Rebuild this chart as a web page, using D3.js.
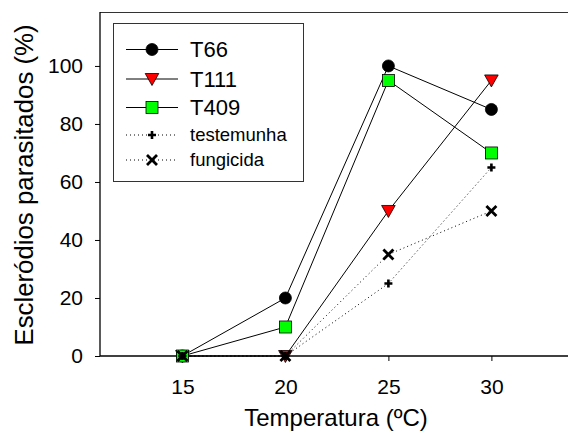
<!DOCTYPE html>
<html>
<head>
<meta charset="utf-8">
<script src="https://cdn.jsdelivr.net/npm/d3@7"></script>
<style>
  body { margin: 0; background: #fff; }
  svg { display: block; font-family: 'Liberation Sans', Arial, sans-serif; }
</style>
</head>
<body>
<div id="chart"></div>
<script>
/* temperatures and % of parasitised sclerotia per treatment */
const temps = [15, 20, 25, 30];
const t66 = [0, 20, 100, 85];
const t111 = [0, 0, 50, 95];
const t409 = [0, 10, 95, 70];
const testemunha = [0, 0, 25, 65];
const fungicida = [0, 0, 35, 50];
const yTicks = [0, 20, 40, 60, 80, 100];

const series = [
  { name: 'T66', values: t66, marker: 'circle', fill: '#000', dash: null, big: true },
  { name: 'T111', values: t111, marker: 'triangle', fill: '#ff0000', dash: null, big: true },
  { name: 'T409', values: t409, marker: 'square', fill: '#00ff00', dash: null, big: true },
  { name: 'testemunha', values: testemunha, marker: 'plus', fill: '#000', dash: '1,3', big: false },
  { name: 'fungicida', values: fungicida, marker: 'cross', fill: '#000', dash: '1,3', big: false }
];

const width = 568;
const height = 434;
const plotLeft = 100;
const plotTop = 12;
const plotBottom = 356;

const svg = d3.select('#chart')
  .append('svg')
  .attr('width', width)
  .attr('height', height);

/* x: 15..30, frame runs off the right edge */
const x = d3.scaleLinear()
  .domain([11, 34])
  .range([plotLeft, plotLeft + 23 * 20.6]);
const y = d3.scaleLinear()
  .domain([0, 118.6])
  .range([plotBottom, plotTop]);

/* frame top line */
svg.append('line')
  .attr('x1', plotLeft).attr('x2', width)
  .attr('y1', plotTop + 0.5).attr('y2', plotTop + 0.5)
  .attr('stroke', '#333').attr('stroke-width', 1);

/* axes */
const xAxis = svg.append('g')
  .attr('transform', 'translate(0,' + plotBottom + ')')
  .call(d3.axisBottom(x).tickValues(temps).tickSize(5).tickPadding(18).tickSizeOuter(0));
const yAxis = svg.append('g')
  .attr('transform', 'translate(' + plotLeft + ',0)')
  .call(d3.axisLeft(y).tickValues(yTicks).tickSize(5).tickPadding(12).tickSizeOuter(0));
[xAxis, yAxis].forEach(function (a) {
  a.select('.domain').attr('stroke', '#000').attr('stroke-width', 1.3);
  a.selectAll('.tick line').attr('stroke', '#000');
  a.selectAll('.tick text')
    .attr('fill', '#000')
    .style('font-family', "'Liberation Sans', Arial, sans-serif")
    .style('font-size', '21px');
});
xAxis.select('.domain').attr('d', 'M' + plotLeft + ',0H' + width);
yAxis.select('.domain').attr('d', 'M0,' + plotTop + 'V' + plotBottom);

/* axis titles */
svg.append('text')
  .attr('x', 336)
  .attr('y', 426)
  .attr('text-anchor', 'middle')
  .style('font-size', '24px')
  .text('Temperatura (ºC)');
svg.append('text')
  .attr('transform', 'translate(33,185) rotate(-90)')
  .attr('text-anchor', 'middle')
  .style('font-size', '25.8px')
  .text('Escleródios parasitados (%)');

/** draws one marker of a given kind centred at 0,0 inside g */
function drawMarker (g, kind, fill) {
  if (kind === 'circle') {
    g.append('circle').attr('r', 6).attr('fill', fill).attr('stroke', '#000').attr('stroke-width', 0.8);
  } else if (kind === 'triangle') {
    g.append('path').attr('d', 'M-6.8,-5.5L6.8,-5.5L0,6.5Z')
      .attr('fill', fill).attr('stroke', '#000').attr('stroke-width', 0.8);
  } else if (kind === 'square') {
    g.append('rect').attr('x', -6).attr('y', -6).attr('width', 12).attr('height', 12)
      .attr('fill', fill).attr('stroke', '#000').attr('stroke-width', 0.8);
  } else if (kind === 'plus') {
    g.append('path').attr('d', 'M-4,0H4M0,-4V4')
      .attr('stroke', '#000').attr('stroke-width', 2.6).attr('fill', 'none');
  } else if (kind === 'cross') {
    g.append('path').attr('d', 'M-5,-5L5,5M-5,5L5,-5')
      .attr('stroke', '#000').attr('stroke-width', 2.8).attr('fill', 'none');
  }
}

const line = d3.line()
  .x(function (d) { return x(d.t); })
  .y(function (d) { return y(d.v); });

series.forEach(function (s) {
  const pts = temps.map(function (t, i) { return { t: t, v: s.values[i] }; });
  svg.append('path')
    .attr('d', line(pts))
    .attr('fill', 'none')
    .attr('stroke', '#000')
    .attr('stroke-width', 1)
    .attr('stroke-dasharray', s.dash);
});
series.forEach(function (s) {
  temps.forEach(function (t, i) {
    const g = svg.append('g')
      .attr('transform', 'translate(' + x(t) + ',' + y(s.values[i]) + ')');
    drawMarker(g, s.marker, s.fill);
  });
});

/* legend */
const legend = svg.append('g');
legend.append('rect')
  .attr('x', 113.5).attr('y', 23.5)
  .attr('width', 190).attr('height', 158)
  .attr('fill', '#fff').attr('stroke', '#333').attr('stroke-width', 1);
const rowY = [49.5, 79, 107.5, 135, 160];
series.forEach(function (s, i) {
  legend.append('line')
    .attr('x1', 126).attr('x2', 178)
    .attr('y1', rowY[i]).attr('y2', rowY[i])
    .attr('stroke', '#000').attr('stroke-width', 1)
    .attr('stroke-dasharray', s.dash);
  const g = legend.append('g').attr('transform', 'translate(152,' + rowY[i] + ')');
  drawMarker(g, s.marker, s.fill);
  legend.append('text')
    .attr('x', 190)
    .attr('y', rowY[i])
    .attr('dy', s.big ? '0.35em' : '0.32em')
    .style('font-size', s.big ? '22px' : '18.5px')
    .text(s.name);
});
</script>
</body>
</html>
